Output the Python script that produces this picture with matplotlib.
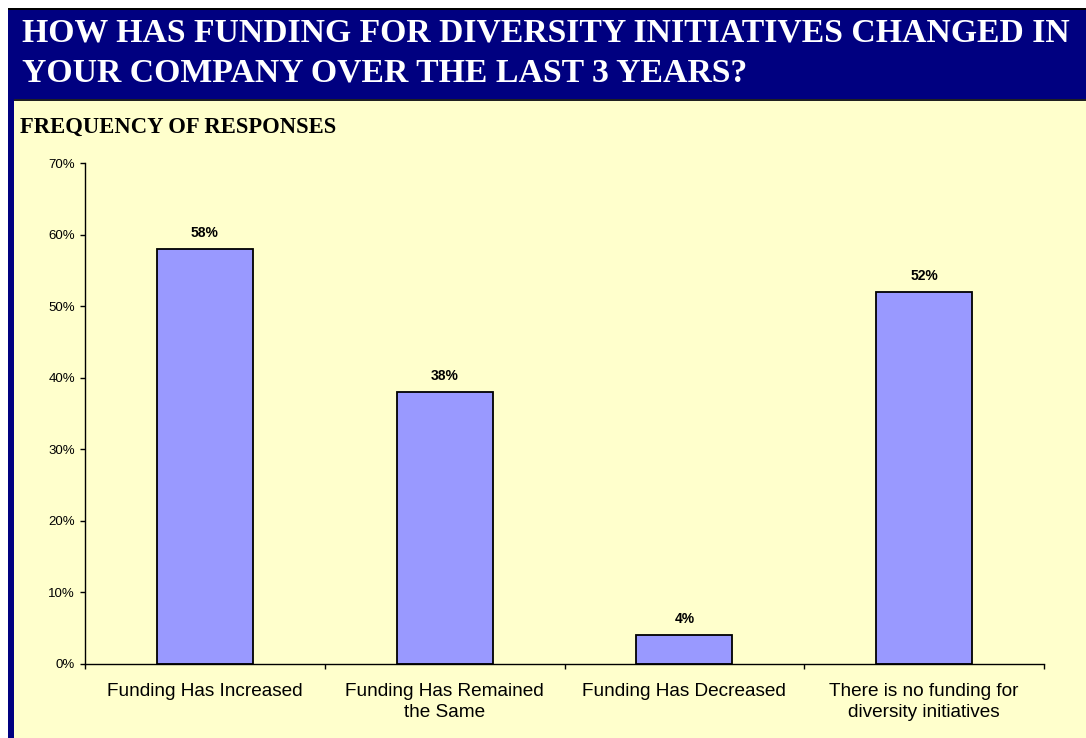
import matplotlib
matplotlib.use("Agg")
import matplotlib.pyplot as plt
from matplotlib.patches import Rectangle
from matplotlib.ticker import PercentFormatter, FixedLocator, NullFormatter

categories = [
    "Funding Has Increased",
    "Funding Has Remained\nthe Same",
    "Funding Has Decreased",
    "There is no funding for\ndiversity initiatives",
]
values = [58, 38, 4, 52]
y_ticks = [0, 10, 20, 30, 40, 50, 60, 70]

title = "HOW HAS FUNDING FOR DIVERSITY INITIATIVES CHANGED IN\nYOUR COMPANY OVER THE LAST 3 YEARS?"
subtitle = "FREQUENCY OF RESPONSES"

W, H = 1086, 738
fig = plt.figure(figsize=(W / 100, H / 100), dpi=100)
fig.patch.set_facecolor("white")

def box(x0, y0, x1, y1, color, z=0):
    fig.patches.append(Rectangle((x0 / W, 1 - y1 / H), (x1 - x0) / W, (y1 - y0) / H,
                                 transform=fig.transFigure, facecolor=color,
                                 edgecolor="none", zorder=z))

# page frame: navy header band, navy left border, cream body
box(8, 8, W, 100, "#000080")
box(8, 8, 14, H, "#000080")
box(14, 100, W, H, "#FFFFCC")
box(8, 8, W, 10, "#000000", 1)
box(14, 99, W, 101, "#202020", 1)

fig.text(22 / W, 1 - 53 / H, title, color="white", fontsize=24.3, fontweight="bold",
         family="Liberation Serif", va="center", ha="left", linespacing=1.35)
fig.text(20 / W, 1 - 127 / H, subtitle, color="black", fontsize=16.3, fontweight="bold",
         family="Liberation Serif", va="center", ha="left")

ax = fig.add_axes([85 / W, 1 - 664 / H, (1044 - 85) / W, (664 - 163) / H])
ax.set_zorder(5)
ax.set_facecolor("none")
x = list(range(len(categories)))
ax.bar(x, values, width=0.4, color="#9999FF", edgecolor="black", linewidth=1.3, zorder=2)
for xi, v in zip(x, values):
    ax.text(xi, v + 1.3, f"{v}%", ha="center", va="bottom", fontsize=10,
            fontweight="bold", family="Liberation Sans")

ax.set_xlim(-0.5, len(categories) - 0.5)
ax.set_ylim(0, 70)
ax.set_yticks(y_ticks)
ax.yaxis.set_major_formatter(PercentFormatter(decimals=0))
ax.xaxis.set_major_locator(FixedLocator([i - 0.5 for i in range(len(categories) + 1)]))
ax.xaxis.set_major_formatter(NullFormatter())
ax.set_xticks(x, minor=True)
ax.set_xticklabels(categories, minor=True, fontsize=13.7, family="Liberation Sans",
                   linespacing=1.3)
ax.tick_params(axis="x", which="minor", length=0, pad=14)
ax.tick_params(axis="x", which="major", length=3.6, width=1, direction="out")
ax.tick_params(axis="y", length=3.6, width=1, direction="out", labelsize=9.5,
               pad=3.5)
for lab in ax.get_yticklabels():
    lab.set_family("Liberation Sans")
for s in ["top", "right"]:
    ax.spines[s].set_visible(False)
for s in ["left", "bottom"]:
    ax.spines[s].set_linewidth(1)

fig.savefig("out.png", dpi=100)
